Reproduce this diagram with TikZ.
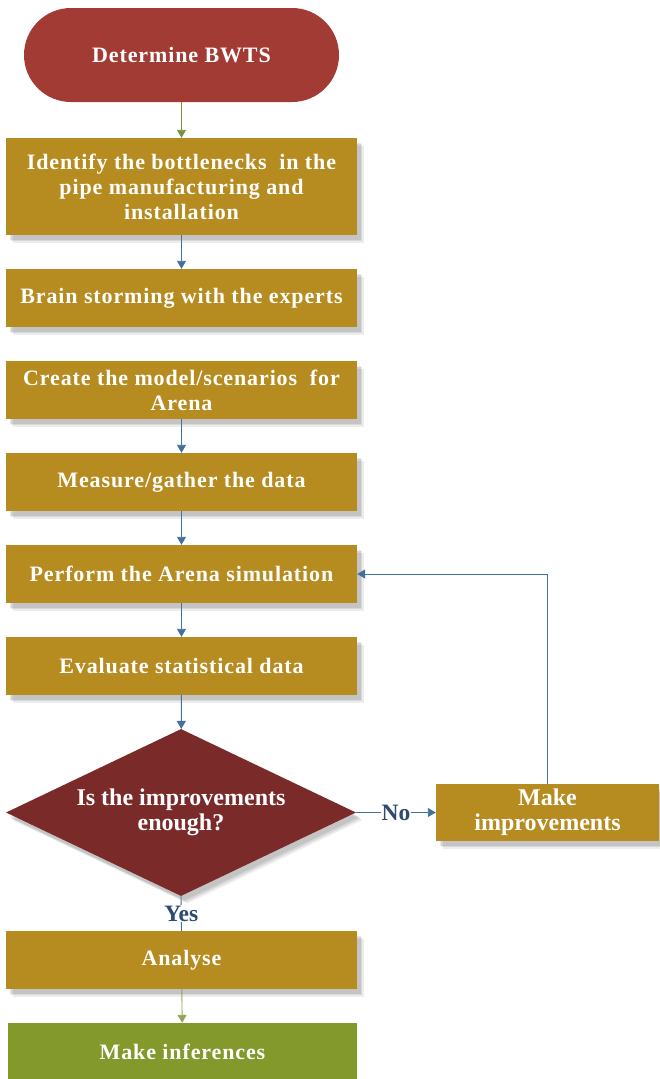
\documentclass[tikz,border=0pt]{standalone}
\usepackage{fontspec}
\setmainfont{Liberation Serif}
\newfontfamily\spacedfont{Liberation Serif}[LetterSpace=4]
\usetikzlibrary{shapes.geometric,shadows,arrows.meta}
\definecolor{gold}{HTML}{B68C21}
\definecolor{startred}{HTML}{A33B35}
\definecolor{diared}{HTML}{7A2A28}
\definecolor{infgreen}{HTML}{84992C}
\definecolor{arrblue}{HTML}{44709E}
\definecolor{arrgreen}{HTML}{77933C}
\definecolor{arrgreenb}{HTML}{8FA652}
\definecolor{lblblue}{HTML}{2E4A6E}
\tikzset{
  shad/.style={
    drop shadow={shadow xshift=3.5pt,shadow yshift=-4.5pt,fill=black,opacity=0.09},
    drop shadow={shadow xshift=5pt,shadow yshift=-6pt,fill=black,opacity=0.09},
    drop shadow={shadow xshift=6.5pt,shadow yshift=-7.5pt,fill=black,opacity=0.07}},
  stepbox/.style={rectangle,fill=gold,text=white,minimum width=351pt,minimum height=58pt,inner sep=2pt,align=center,font=\spacedfont\bfseries\fontsize{22}{25}\selectfont,shad},
  conn/.style={draw=arrblue,line width=0.9pt,-{Triangle[width=9pt,length=8pt]}},
  lbl/.style={fill=white,text=lblblue,font=\bfseries\fontsize{23.5}{25}\selectfont,inner sep=1pt}
}
\begin{document}
\begin{tikzpicture}[x=1pt,y=-1pt]
\useasboundingbox (0,0) rectangle (659,1079);
\node[rectangle,rounded corners=47pt,fill=startred,text=white,minimum width=315pt,minimum height=94pt,font=\spacedfont\bfseries\fontsize{22}{25}\selectfont] (start) at (181.5,55) {Determine BWTS};
\node[stepbox,minimum height=97pt] (b1) at (181.5,186.5) {Identify the bottlenecks\ \ in the\\pipe manufacturing and\\installation};
\node[stepbox] (b2) at (181.5,298) {Brain storming with the experts};
\node[stepbox] (b3) at (181.5,390) {Create the model/scenarios\ \ for\\Arena};
\node[stepbox] (b4) at (181.5,482) {Measure/gather the data};
\node[stepbox] (b5) at (181.5,574) {Perform the Arena simulation};
\node[stepbox] (b6) at (181.5,666) {Evaluate statistical data};
\node[diamond,fill=diared,text=white,minimum width=350pt,minimum height=167pt,inner sep=0pt,aspect=2.1,align=center,font=\bfseries\fontsize{24}{25}\selectfont,shad] (dec) at (181,812.5) {Is the improvements\\enough?};
\node[stepbox,minimum width=223pt,minimum height=57pt,font=\bfseries\fontsize{24}{25}\selectfont] (mi) at (547.5,812.5) {Make\\improvements};
\node[stepbox] (an) at (181.5,960) {Analyse};
\node[rectangle,fill=infgreen,text=white,minimum width=349pt,minimum height=58pt,font=\spacedfont\bfseries\fontsize{22}{25}\selectfont] (inf) at (182.5,1052) {Make inferences};
\draw[conn,draw=arrgreen] (start) -- (b1);
\draw[conn] (b1) -- (b2);
\draw[conn] (b3) -- (b4);
\draw[conn] (b4) -- (b5);
\draw[conn] (b5) -- (b6);
\draw[conn] (b6) -- (dec);
\draw[conn] (dec.east) -- node[lbl] {No} (mi.west);
\draw[conn] (mi.north) |- (b5.east);
\draw[draw=arrblue,line width=0.9pt] (dec.south) -- node[lbl,pos=0.5] {Yes} (an.north);
\draw[conn,draw=arrgreenb] (an) -- (inf);
\end{tikzpicture}
\end{document}
